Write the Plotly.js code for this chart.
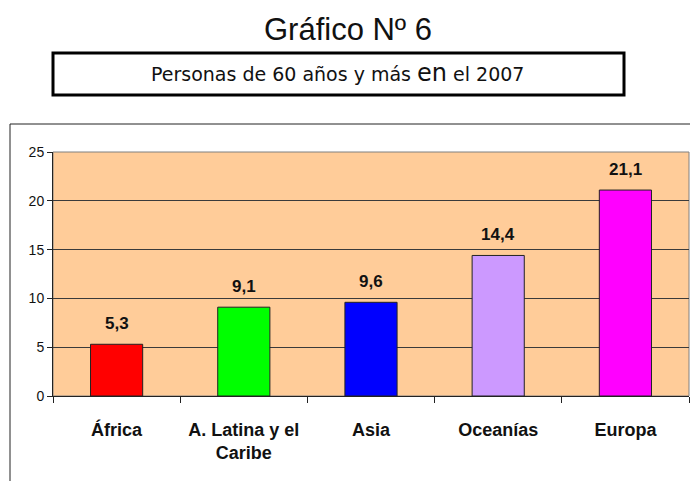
<!DOCTYPE html>
<html>
<head>
<meta charset="utf-8">
<script src="https://cdn.plot.ly/plotly-3.0.1.min.js"></script>
<style>
  html, body { margin: 0; padding: 0; background: #fff; }
  #chart { width: 690px; height: 481px; }
</style>
</head>
<body>
<div id="chart"></div>
<script>
// Gráfico Nº 6 - Personas de 60 años y más en el 2007

const regiones = ['África', 'A. Latina y el<br>Caribe', 'Asia', 'Oceanías', 'Europa'];
const porcentajes = [5.3, 9.1, 9.6, 14.4, 21.1];
const coloresBarras = ['#ff0000', '#00ff00', '#0000ff', '#cc99ff', '#ff00ff'];
const ticksY = [0, 5, 10, 15, 20, 25];

// px -> paper helpers (plot area: x 53..689, y 152..396)
const L = 53, R = 689, T = 152, B = 396;
const px = (x) => (x - L) / (R - L);
const py = (y) => (B - y) / (B - T);

const trace = {
    type: 'bar',
    x: regiones,
    y: porcentajes,
    marker: {
        color: coloresBarras,
        line: { color: '#222', width: 1 }
    },
    hoverinfo: 'none'
};

// value labels above each bar
const etiquetas = regiones.map((r, i) => ({
    x: r,
    y: porcentajes[i],
    xref: 'x',
    yref: 'y',
    text: '<b>' + porcentajes[i].toFixed(1).replace('.', ',') + '</b>',
    showarrow: false,
    yanchor: 'bottom',
    yshift: 9,
    font: { family: 'Liberation Sans, Arial', size: 17, color: '#111' }
}));

const layout = {
    width: 690,
    height: 481,
    margin: { l: L, r: 690 - R, t: T, b: 481 - B },
    paper_bgcolor: '#ffffff',
    plot_bgcolor: '#ffcc99',
    bargap: 0.59,
    showlegend: false,
    font: { family: 'Liberation Sans, Arial', color: '#111' },
    title: {
        text: 'Gráfico Nº 6',
        font: { family: 'Liberation Sans, Arial', size: 31, color: '#111' },
        x: 348 / 690,
        xanchor: 'center',
        y: 1 - 29 / 481,
        yanchor: 'middle',
        xref: 'container',
        yref: 'container'
    },
    xaxis: {
        type: 'category',
        tickson: 'boundaries',
        ticks: 'outside',
        ticklen: 6,
        tickcolor: '#222',
        showline: true,
        linecolor: '#222',
        linewidth: 1,
        showgrid: false,
        ticklabelstandoff: 17,
        tickfont: { family: 'Liberation Sans, Arial', size: 18, color: '#111', weight: 'bold' }
    },
    yaxis: {
        range: [0, 25],
        tickvals: ticksY,
        ticks: 'outside',
        ticklen: 5,
        tickcolor: '#222',
        showline: true,
        linecolor: '#222',
        linewidth: 1,
        showgrid: true,
        gridcolor: '#3a3a3a',
        gridwidth: 1,
        zeroline: false,
        tickfont: { family: 'Liberation Sans, Arial', size: 14, color: '#111' }
    },
    annotations: etiquetas.concat([
        {
            xref: 'paper', yref: 'paper',
            x: px(337), y: py(73),
            xanchor: 'center', yanchor: 'middle',
            showarrow: false,
            text: 'Personas de 60 años y más <span style="font-size:24px">en</span> el 2007',
            font: { family: 'DejaVu Sans, Verdana', size: 19, color: '#111' }
        }
    ]),
    shapes: [
        // subtitle box
        {
            type: 'rect', xref: 'paper', yref: 'paper',
            x0: px(53), x1: px(624), y0: py(95), y1: py(53),
            line: { color: '#000', width: 3 }
        },
        // outer frame: top and left edges
        {
            type: 'line', xref: 'paper', yref: 'paper',
            x0: px(10), x1: px(690), y0: py(124), y1: py(124),
            line: { color: '#222', width: 1 }
        },
        {
            type: 'line', xref: 'paper', yref: 'paper',
            x0: px(10), x1: px(10), y0: py(124), y1: py(481),
            line: { color: '#222', width: 1 }
        },
        // plot area border
        {
            type: 'rect', xref: 'paper', yref: 'paper',
            x0: 0, x1: 1, y0: 0, y1: 1,
            line: { color: '#808080', width: 1 },
            layer: 'below'
        }
    ]
};

Plotly.newPlot('chart', [trace], layout, { staticPlot: true, displayModeBar: false });
</script>
</body>
</html>
